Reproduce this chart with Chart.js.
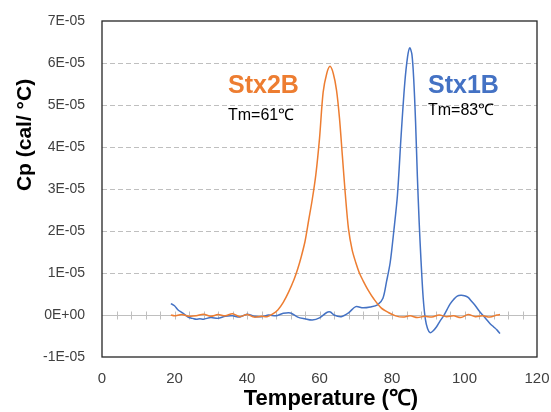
<!DOCTYPE html>
<html>
<head>
<meta charset="utf-8">
<script src="https://cdn.jsdelivr.net/npm/chart.js@4/dist/chart.umd.min.js"></script>
<style>
  html, body { margin: 0; padding: 0; background: #fff; }
  #wrap { width: 551px; height: 412px; position: relative; }
</style>
</head>
<body>
<div id="wrap"><canvas id="dsc"></canvas></div>
<script>
// Cp values in units of 1E-05 cal/°C
var stx2bTemp = [19, 20, 22, 24, 26, 28, 30, 32, 34, 36, 38, 40, 42, 44, 45.5, 47, 48.5, 50, 51.5, 53, 54, 55, 56, 57, 58, 59, 60, 61, 62, 62.9, 63.8, 64.7, 65.5, 66.3, 67.1, 68, 69, 70, 71, 72, 73.5, 75, 77, 79, 81, 83, 85, 87, 89, 91, 93, 95, 97, 99, 101, 103, 105, 107, 109, 109.8];
var stx2bCp = [0, -0.02, 0.01, -0.03, -0.02, 0.02, -0.03, 0.01, -0.02, 0.03, -0.04, 0.01, -0.05, -0.03, -0.04, 0.02, 0.12, 0.3, 0.55, 0.85, 1.1, 1.4, 1.75, 2.25, 2.75, 3.35, 4.2, 5.3, 5.75, 5.92, 5.75, 5.35, 4.7, 3.8, 2.9, 2.05, 1.55, 1.25, 1.0, 0.82, 0.58, 0.38, 0.17, 0.06, -0.02, -0.05, -0.02, -0.06, -0.03, -0.05, 0.0, -0.04, -0.02, -0.06, 0.01, -0.04, -0.02, -0.05, 0.0, 0.01];

var stx1bTemp = [19, 20, 21, 22, 23, 24, 25, 26, 27, 28, 30, 32, 34, 36, 38, 40, 42, 44, 46, 48, 50, 52, 54, 56, 58, 60, 62, 63, 64, 66, 68, 70, 72, 74, 76, 77.5, 78.5, 79.5, 80.5, 81.5, 82.5, 83.5, 84.3, 84.9, 85.5, 86, 86.5, 87, 87.5, 88, 88.6, 89.2, 89.8, 90.5, 91.3, 92.3, 93.2, 94.1, 95, 96, 97, 98, 99, 100, 101, 102, 103, 104, 105, 106, 107, 108, 109, 109.8];
var stx1bCp = [0.27, 0.22, 0.12, 0.06, 0.0, -0.06, -0.08, -0.1, -0.09, -0.1, -0.06, -0.08, -0.03, -0.02, -0.05, 0.02, -0.03, -0.04, 0.0, -0.02, 0.04, 0.05, -0.05, -0.09, -0.12, -0.07, 0.06, 0.07, 0.0, -0.04, 0.05, 0.2, 0.17, 0.19, 0.24, 0.4, 0.8, 1.25, 2.0, 2.85, 4.25, 5.5, 6.15, 6.36, 6.2, 5.6, 4.6, 3.3, 2.2, 1.3, 0.41, -0.1, -0.32, -0.42, -0.38, -0.28, -0.15, -0.04, 0.1, 0.26, 0.37, 0.45, 0.47, 0.46, 0.42, 0.32, 0.22, 0.1, 0.0, -0.1, -0.2, -0.28, -0.36, -0.44];

var xTicks = [0, 20, 40, 60, 80, 100, 120];
var yTickLabels = ['-1E-05', '0E+00', '1E-05', '2E-05', '3E-05', '4E-05', '5E-05', '6E-05', '7E-05'];

var ORANGE = '#ED7D31';
var BLUE = '#4472C4';
var FONT = "'Liberation Sans', Arial, sans-serif";

function pts(xs, ys) {
  return xs.map(function (x, i) { return { x: x, y: ys[i] }; });
}

// frame, zero axis with small cross ticks, titles and peak labels
var decor = {
  id: 'decor',
  beforeDatasetsDraw: function (chart) {
    var ctx = chart.ctx, a = chart.chartArea;
    var xs = chart.scales.x, ys = chart.scales.y;
    var y0 = Math.round(ys.getPixelForValue(0)) + 0.5;
    ctx.save();
    ctx.strokeStyle = '#BFBFBF';
    ctx.lineWidth = 1;
    ctx.beginPath();
    ctx.moveTo(a.left, y0);
    ctx.lineTo(a.right, y0);
    for (var t = 4; t < 120; t += 4) {
      var px = Math.round(xs.getPixelForValue(t)) + 0.5;
      ctx.moveTo(px, y0 - 4);
      ctx.lineTo(px, y0 + 4);
    }
    ctx.stroke();
    ctx.restore();
  },
  afterDraw: function (chart) {
    var ctx = chart.ctx, a = chart.chartArea;
    ctx.save();
    ctx.strokeStyle = '#262626';
    ctx.lineWidth = 1.3;
    ctx.strokeRect(a.left, a.top, a.right - a.left, a.bottom - a.top);

    ctx.fillStyle = '#000';
    ctx.textAlign = 'center';
    ctx.textBaseline = 'middle';
    ctx.font = 'bold 22px ' + FONT;
    ctx.fillText('Temperature (\u2103)', 331, 399);

    ctx.save();
    ctx.translate(25, 135);
    ctx.rotate(-Math.PI / 2);
    ctx.font = 'bold 21px ' + FONT;
    ctx.fillText('Cp (cal/ \u00B0C)', 0, 0);
    ctx.restore();

    ctx.textAlign = 'left';
    ctx.textBaseline = 'alphabetic';
    ctx.font = 'bold 25px ' + FONT;
    ctx.fillStyle = ORANGE;
    ctx.fillText('Stx2B', 228, 93);
    ctx.fillStyle = BLUE;
    ctx.fillText('Stx1B', 428, 93);

    ctx.font = '16px ' + FONT;
    ctx.fillStyle = '#000';
    ctx.fillText('Tm=61\u2103', 228, 120);
    ctx.fillText('Tm=83\u2103', 428, 115);
    ctx.restore();
  }
};

new Chart(document.getElementById('dsc'), {
  type: 'scatter',
  data: {
    datasets: [{
      label: 'Stx2B',
      data: pts(stx2bTemp, stx2bCp),
      showLine: true,
      borderColor: ORANGE,
      borderWidth: 1.5,
      pointRadius: 0,
      tension: 0.3
    }, {
      label: 'Stx1B',
      data: pts(stx1bTemp, stx1bCp),
      showLine: true,
      borderColor: BLUE,
      borderWidth: 1.5,
      pointRadius: 0,
      tension: 0.3
    }]
  },
  options: {
    responsive: true,
    maintainAspectRatio: false,
    animation: false,
    layout: { padding: { top: 21, right: 14, left: 0, bottom: 0 } },
    plugins: {
      legend: { display: false },
      tooltip: { enabled: false }
    },
    scales: {
      x: {
        type: 'linear',
        min: 0,
        max: 120,
        afterBuildTicks: function (s) { s.ticks = xTicks.map(function (v) { return { value: v }; }); },
        afterFit: function (s) { s.height = 55; s.paddingLeft = 0; s.paddingRight = 0; },
        ticks: { color: '#404040', font: { family: FONT, size: 15 }, padding: 13, maxRotation: 0 },
        grid: { display: false, drawTicks: false },
        border: { display: false }
      },
      y: {
        min: -1,
        max: 7,
        afterFit: function (s) { s.width = 102; s.paddingTop = 0; s.paddingBottom = 0; },
        ticks: {
          stepSize: 1,
          color: '#404040',
          font: { family: FONT, size: 14 },
          padding: 17,
          callback: function (v, i) { return yTickLabels[i]; }
        },
        grid: {
          drawTicks: false,
          color: function (c) {
            var v = c.tick && c.tick.value;
            return (v >= 1 && v <= 6) ? '#BFBFBF' : 'rgba(0,0,0,0)';
          },
          lineWidth: 1
        },
        border: { display: false, dash: [5, 3] }
      }
    }
  },
  plugins: [decor]
});
</script>
</body>
</html>
